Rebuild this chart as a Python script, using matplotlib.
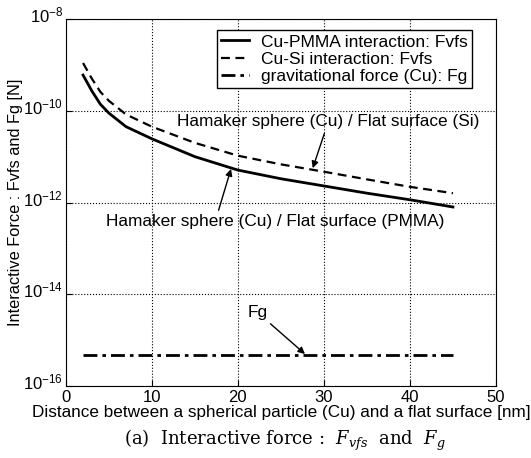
import numpy as np
import matplotlib
matplotlib.use("Agg")
import matplotlib.pyplot as plt
import matplotlib.transforms as mtransforms

plt.rcParams['font.family'] = ['Liberation Sans', 'DejaVu Sans']
plt.rcParams['mathtext.fontset'] = 'dejavuserif'

# distances [nm] and forces [N]
dist = [2, 3, 4, 5, 7, 10, 15, 20, 25, 30, 35, 40, 45]
f_pmma = [6.0e-10, 2.75e-10, 1.4e-10, 8.9e-11, 4.5e-11, 2.45e-11, 1.0e-11, 5.1e-12,
          3.3e-12, 2.3e-12, 1.6e-12, 1.15e-12, 8.0e-13]
f_si = [1.1e-9, 5.1e-10, 2.6e-10, 1.65e-10, 8.3e-11, 4.5e-11, 2.0e-11, 1.05e-11,
        6.8e-12, 4.7e-12, 3.2e-12, 2.2e-12, 1.6e-12]
f_g = [4.8e-16] * len(dist)

labels = ['Cu-PMMA interaction: Fvfs', 'Cu-Si interaction: Fvfs',
          'gravitational force (Cu): Fg']

fig = plt.figure(figsize=(5.31, 4.58), dpi=100)
ax = fig.add_axes([0.124, 0.157, 0.81, 0.8015])

ax.semilogy(dist, f_pmma, color='black', lw=2.0, label=labels[0])
ax.semilogy(dist, f_si, color='black', lw=1.6, ls=(0, (4, 2.5)), label=labels[1])
ax.semilogy(dist, f_g, color='black', lw=2.0, ls=(0, (5, 1.8, 1.3, 1.8)), label=labels[2])

ax.set_xlim(0, 50)
ax.set_ylim(1e-16, 1e-8)
ax.set_xticks([0, 10, 20, 30, 40, 50])
ax.set_yticks([1e-16, 1e-14, 1e-12, 1e-10, 1e-8])
ax.minorticks_off()
ax.tick_params(direction='in', labelsize=12, length=4)
ax.tick_params(axis='x', pad=3)
ax.tick_params(axis='y', pad=2)
ax.grid(True, color='black', ls=':', lw=0.8)

# raise the y tick labels a little, as in the original
shift = mtransforms.ScaledTranslation(0, 5 / 100, fig.dpi_scale_trans)
for lab in ax.get_yticklabels():
    lab.set_transform(lab.get_transform() + shift)

ax.set_xlabel('Distance between a spherical particle (Cu) and a flat surface [nm]',
              fontsize=12.3, labelpad=0)
ax.set_ylabel('Interactive Force : Fvfs and Fg [N]', fontsize=11.8, labelpad=0)

leg = ax.legend(loc='upper right', bbox_to_anchor=(0.944, 0.97), borderaxespad=0,
                fontsize=12.5, frameon=True, fancybox=False, edgecolor='black',
                framealpha=1, handlelength=1.6, labelspacing=0.12, borderpad=0.25,
                handletextpad=0.7)
leg.get_frame().set_linewidth(1.0)

ap = dict(arrowstyle='-|>', color='black', lw=1.0, mutation_scale=10,
          shrinkA=1, shrinkB=0)
ax.annotate('Hamaker sphere (Cu) / Flat surface (Si)', xy=(28.7, 5.6e-12),
            xytext=(30.5, 5.7e-11), ha='center', va='center', fontsize=12.4,
            arrowprops=ap)
ax.annotate('Hamaker sphere (Cu) / Flat surface (PMMA)', xy=(19.2, 5.4e-12),
            xytext=(24.3, 3.8e-13), ha='center', va='center', fontsize=12.4,
            arrowprops=dict(ap, relpos=(0.33, 1.0)))
ax.annotate('Fg', xy=(27.8, 5.0e-16), xytext=(22.3, 4.0e-15), ha='center',
            va='center', fontsize=12.4, arrowprops=ap)

fig.text(0.537, 0.039, r'(a)  Interactive force :  $F_{vfs}$  and  $F_g$',
         ha='center', va='center', fontsize=13, family='DejaVu Serif')

fig.savefig('out.png', dpi=100)
